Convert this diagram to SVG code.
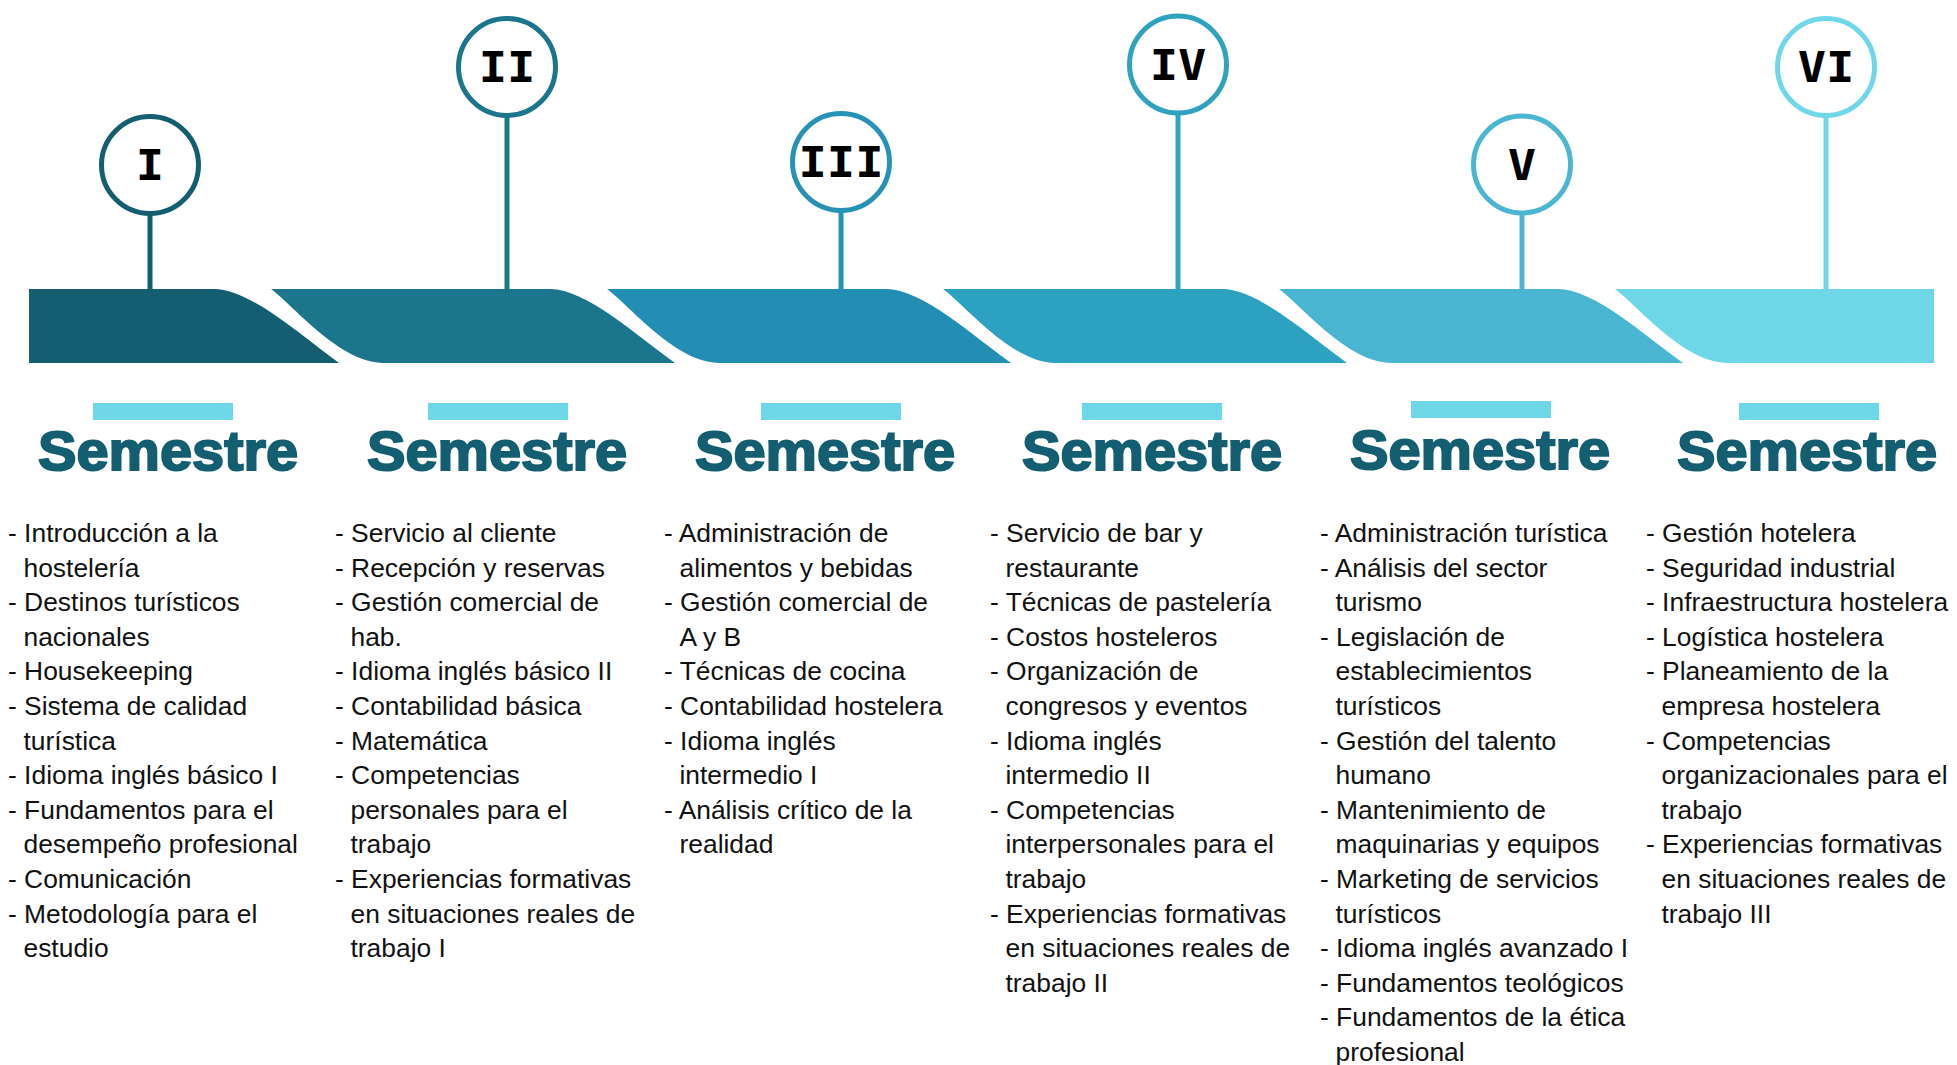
<svg xmlns="http://www.w3.org/2000/svg" width="1957" height="1065" viewBox="0 0 1957 1065">
<style>
.ring{fill:#fff;stroke-width:5}
.stem{stroke-width:5;fill:none}
.num{font-family:"DejaVu Sans Mono","Liberation Mono",monospace;font-weight:bold;font-size:42px;fill:#000;text-anchor:middle}
.head{font-family:"Liberation Sans",Arial,sans-serif;font-weight:bold;font-size:56px;fill:#135E70;stroke:#135E70;stroke-width:2;paint-order:stroke;text-anchor:middle}
.hbar{fill:#6ED7E7}
.list{font-family:"Liberation Sans",Arial,sans-serif;font-size:26.4px;fill:#111}
</style>
<rect width="1957" height="1065" fill="#fff"/>
<g id="timeline-bar">
<path d="M 29,289 H 214 C 250,289 300,335 339,363 H 29 Z" fill="#135E70"/>
<path d="M 271,289 H 550 C 586,289 636,335 675,363 H 384 C 340,363 295,307 271,289 Z" fill="#1B758C"/>
<path d="M 607,289 H 886 C 922,289 972,335 1011,363 H 720 C 676,363 631,307 607,289 Z" fill="#238EB4"/>
<path d="M 943,289 H 1222 C 1258,289 1308,335 1347,363 H 1056 C 1012,363 967,307 943,289 Z" fill="#2DA2C0"/>
<path d="M 1279,289 H 1558 C 1594,289 1644,335 1683,363 H 1392 C 1348,363 1303,307 1279,289 Z" fill="#4AB5D0"/>
<path d="M 1615,289 H 1934 V 363 H 1728 C 1684,363 1639,307 1615,289 Z" fill="#6ED7E7"/>
</g>
<g id="connectors">
<line class="stem" x1="150" y1="213" x2="150" y2="290" stroke="#135E70"/>
<line class="stem" x1="507" y1="115" x2="507" y2="290" stroke="#1B758C"/>
<line class="stem" x1="841" y1="210" x2="841" y2="290" stroke="#2592B6"/>
<line class="stem" x1="1178" y1="112" x2="1178" y2="290" stroke="#2EA3C1"/>
<line class="stem" x1="1522" y1="212" x2="1522" y2="290" stroke="#4AB6D1"/>
<line class="stem" x1="1826" y1="115" x2="1826" y2="290" stroke="#6ED7E8"/>
</g>
<g id="sem1">
<circle class="ring" cx="150" cy="165" r="48.5" stroke="#135E70"/>
<text class="num" transform="translate(150,180) scale(1.12,1)">I</text>
<rect class="hbar" x="93" y="403" width="140" height="17"/>
<text class="head" x="168" y="470" textLength="260" lengthAdjust="spacingAndGlyphs">Semestre</text>
<text class="list">
<tspan x="8" y="542">- Introducción a la</tspan>
<tspan x="23.5" y="576.6">hostelería</tspan>
<tspan x="8" y="611.2">- Destinos turísticos</tspan>
<tspan x="23.5" y="645.8">nacionales</tspan>
<tspan x="8" y="680.4">- Housekeeping</tspan>
<tspan x="8" y="715">- Sistema de calidad</tspan>
<tspan x="23.5" y="749.6">turística</tspan>
<tspan x="8" y="784.2">- Idioma inglés básico I</tspan>
<tspan x="8" y="818.8">- Fundamentos para el</tspan>
<tspan x="23.5" y="853.4">desempeño profesional</tspan>
<tspan x="8" y="888">- Comunicación</tspan>
<tspan x="8" y="922.6">- Metodología para el</tspan>
<tspan x="23.5" y="957.2">estudio</tspan>
</text>
</g>
<g id="sem2">
<circle class="ring" cx="507" cy="67" r="48.5" stroke="#1B758C"/>
<text class="num" transform="translate(507,82) scale(1.12,1)">II</text>
<rect class="hbar" x="428" y="403" width="140" height="17"/>
<text class="head" x="497" y="470" textLength="260" lengthAdjust="spacingAndGlyphs">Semestre</text>
<text class="list">
<tspan x="335" y="542">- Servicio al cliente</tspan>
<tspan x="335" y="576.6">- Recepción y reservas</tspan>
<tspan x="335" y="611.2">- Gestión comercial de</tspan>
<tspan x="350.5" y="645.8">hab.</tspan>
<tspan x="335" y="680.4">- Idioma inglés básico II</tspan>
<tspan x="335" y="715">- Contabilidad básica</tspan>
<tspan x="335" y="749.6">- Matemática</tspan>
<tspan x="335" y="784.2">- Competencias</tspan>
<tspan x="350.5" y="818.8">personales para el</tspan>
<tspan x="350.5" y="853.4">trabajo</tspan>
<tspan x="335" y="888">- Experiencias formativas</tspan>
<tspan x="350.5" y="922.6">en situaciones reales de</tspan>
<tspan x="350.5" y="957.2">trabajo I</tspan>
</text>
</g>
<g id="sem3">
<circle class="ring" cx="841" cy="162" r="48.5" stroke="#2592B6"/>
<text class="num" transform="translate(841,177) scale(1.12,1)">III</text>
<rect class="hbar" x="761" y="403" width="140" height="17"/>
<text class="head" x="825" y="470" textLength="260" lengthAdjust="spacingAndGlyphs">Semestre</text>
<text class="list">
<tspan x="664" y="542">- Administración de</tspan>
<tspan x="679.5" y="576.6">alimentos y bebidas</tspan>
<tspan x="664" y="611.2">- Gestión comercial de</tspan>
<tspan x="679.5" y="645.8">A y B</tspan>
<tspan x="664" y="680.4">- Técnicas de cocina</tspan>
<tspan x="664" y="715">- Contabilidad hostelera</tspan>
<tspan x="664" y="749.6">- Idioma inglés</tspan>
<tspan x="679.5" y="784.2">intermedio I</tspan>
<tspan x="664" y="818.8">- Análisis crítico de la</tspan>
<tspan x="679.5" y="853.4">realidad</tspan>
</text>
</g>
<g id="sem4">
<circle class="ring" cx="1178" cy="64.5" r="48.5" stroke="#2EA3C1"/>
<text class="num" transform="translate(1178,79.5) scale(1.12,1)">IV</text>
<rect class="hbar" x="1082" y="403" width="140" height="17"/>
<text class="head" x="1152" y="470" textLength="260" lengthAdjust="spacingAndGlyphs">Semestre</text>
<text class="list">
<tspan x="990" y="542">- Servicio de bar y</tspan>
<tspan x="1005.5" y="576.6">restaurante</tspan>
<tspan x="990" y="611.2">- Técnicas de pastelería</tspan>
<tspan x="990" y="645.8">- Costos hosteleros</tspan>
<tspan x="990" y="680.4">- Organización de</tspan>
<tspan x="1005.5" y="715">congresos y eventos</tspan>
<tspan x="990" y="749.6">- Idioma inglés</tspan>
<tspan x="1005.5" y="784.2">intermedio II</tspan>
<tspan x="990" y="818.8">- Competencias</tspan>
<tspan x="1005.5" y="853.4">interpersonales para el</tspan>
<tspan x="1005.5" y="888">trabajo</tspan>
<tspan x="990" y="922.6">- Experiencias formativas</tspan>
<tspan x="1005.5" y="957.2">en situaciones reales de</tspan>
<tspan x="1005.5" y="991.8">trabajo II</tspan>
</text>
</g>
<g id="sem5">
<circle class="ring" cx="1522" cy="164.5" r="48.5" stroke="#4AB6D1"/>
<text class="num" transform="translate(1522,179.5) scale(1.12,1)">V</text>
<rect class="hbar" x="1411" y="401" width="140" height="17"/>
<text class="head" x="1480" y="469" textLength="260" lengthAdjust="spacingAndGlyphs">Semestre</text>
<text class="list">
<tspan x="1320" y="542">- Administración turística</tspan>
<tspan x="1320" y="576.6">- Análisis del sector</tspan>
<tspan x="1335.5" y="611.2">turismo</tspan>
<tspan x="1320" y="645.8">- Legislación de</tspan>
<tspan x="1335.5" y="680.4">establecimientos</tspan>
<tspan x="1335.5" y="715">turísticos</tspan>
<tspan x="1320" y="749.6">- Gestión del talento</tspan>
<tspan x="1335.5" y="784.2">humano</tspan>
<tspan x="1320" y="818.8">- Mantenimiento de</tspan>
<tspan x="1335.5" y="853.4">maquinarias y equipos</tspan>
<tspan x="1320" y="888">- Marketing de servicios</tspan>
<tspan x="1335.5" y="922.6">turísticos</tspan>
<tspan x="1320" y="957.2">- Idioma inglés avanzado I</tspan>
<tspan x="1320" y="991.8">- Fundamentos teológicos</tspan>
<tspan x="1320" y="1026.4">- Fundamentos de la ética</tspan>
<tspan x="1335.5" y="1061">profesional</tspan>
</text>
</g>
<g id="sem6">
<circle class="ring" cx="1826" cy="67" r="48.5" stroke="#6ED7E8"/>
<text class="num" transform="translate(1826,82) scale(1.12,1)">VI</text>
<rect class="hbar" x="1739" y="403" width="140" height="17"/>
<text class="head" x="1807" y="470" textLength="260" lengthAdjust="spacingAndGlyphs">Semestre</text>
<text class="list">
<tspan x="1646" y="542">- Gestión hotelera</tspan>
<tspan x="1646" y="576.6">- Seguridad industrial</tspan>
<tspan x="1646" y="611.2">- Infraestructura hostelera</tspan>
<tspan x="1646" y="645.8">- Logística hostelera</tspan>
<tspan x="1646" y="680.4">- Planeamiento de la</tspan>
<tspan x="1661.5" y="715">empresa hostelera</tspan>
<tspan x="1646" y="749.6">- Competencias</tspan>
<tspan x="1661.5" y="784.2">organizacionales para el</tspan>
<tspan x="1661.5" y="818.8">trabajo</tspan>
<tspan x="1646" y="853.4">- Experiencias formativas</tspan>
<tspan x="1661.5" y="888">en situaciones reales de</tspan>
<tspan x="1661.5" y="922.6">trabajo III</tspan>
</text>
</g>
</svg>
